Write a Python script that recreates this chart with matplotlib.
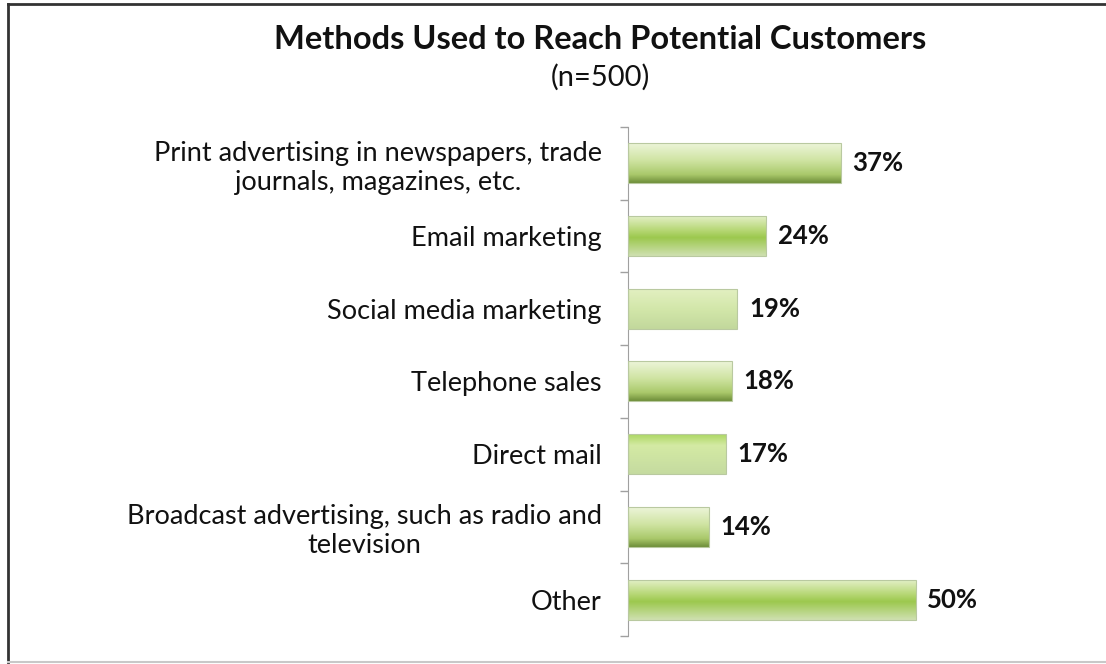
import matplotlib
matplotlib.use("Agg")
import matplotlib.pyplot as plt
import numpy as np
from matplotlib.colors import LinearSegmentedColormap
from matplotlib.lines import Line2D

plt.rcParams['font.family'] = ['Lato', 'DejaVu Sans']

# --- data ---
methods = [
    "Print advertising in newspapers, trade\njournals, magazines, etc.",
    "Email marketing",
    "Social media marketing",
    "Telephone sales",
    "Direct mail",
    "Broadcast advertising, such as radio and\ntelevision",
    "Other",
]
percents = [37, 24, 19, 18, 17, 14, 50]

TITLE = "Methods Used to Reach Potential Customers"
SUBTITLE = "(n=500)"

# vertical gradient stops (top -> bottom) for the glossy bars
GRADIENTS = {
    "shade": [(0.0, "#eef6dc"), (0.45, "#cfe4a2"), (0.8, "#a9c86a"), (1.0, "#6f8f3a")],
    "band": [(0.0, "#e6f1cb"), (0.4, "#b2d56e"), (0.55, "#9cc84e"), (1.0, "#cfe0b0")],
    "light": [(0.0, "#e3f0c2"), (0.5, "#d3e7aa"), (1.0, "#c2d89c")],
    "glow": [(0.0, "#a9d65c"), (0.3, "#d4eaa4"), (1.0, "#c5dba0")],
}
bar_styles = ["shade", "band", "light", "shade", "glow", "shade", "band"]

fig = plt.figure(figsize=(11.06, 6.64), dpi=100)
ax = fig.add_axes([0.568, 0.042, 0.312, 0.767])

y = np.arange(len(methods))
bars = ax.barh(y, percents, height=0.55, color='none',
               edgecolor='#b9c9a0', linewidth=0.8, zorder=3)

for bar, style in zip(bars, bar_styles):
    cmap = LinearSegmentedColormap.from_list(style, GRADIENTS[style])
    grad = np.linspace(0, 1, 100).reshape(-1, 1)
    x0, y0 = bar.get_x(), bar.get_y()
    w, h = bar.get_width(), bar.get_height()
    im = ax.imshow(grad, cmap=cmap, aspect='auto', origin='upper',
                   extent=[x0, x0 + w, y0 + h, y0], zorder=2)
    im.set_clip_path(bar)

for bar, val in zip(bars, percents):
    ax.text(bar.get_width() + 2.0, bar.get_y() + bar.get_height() / 2,
            f"{val}%", va='center', ha='left', fontsize=18.5,
            fontweight='bold', color='#111111')

ax.set_xlim(0, 60)
ax.set_ylim(len(methods) - 0.5, -0.5)

ax.set_yticks(y)
ax.set_yticklabels(methods, fontsize=19.5, color='#111111', linespacing=1.2)
for lbl in ax.get_yticklabels():
    lbl.set_multialignment('center')
ax.set_yticks(np.arange(-0.5, len(methods)), minor=True)
ax.tick_params(axis='y', which='major', length=0, pad=19)
ax.tick_params(axis='y', which='minor', length=6, color='#a0a0a0', width=1)
ax.set_xticks([])

for side in ['top', 'right', 'bottom']:
    ax.spines[side].set_visible(False)
ax.spines['left'].set_color('#a0a0a0')

fig.text(0.5425, 0.94, TITLE, ha='center', va='center',
         fontsize=23.5, fontweight='bold', color='#111111')
fig.text(0.5425, 0.884, SUBTITLE, ha='center', va='center',
         fontsize=21, color='#111111')

# outer frame
fig.add_artist(Line2D([0.0075, 1.0], [0.994, 0.994], color='#333333', linewidth=2))
fig.add_artist(Line2D([0.0075, 0.0075], [0.003, 0.994], color='#333333', linewidth=2))
fig.add_artist(Line2D([0.0075, 1.0], [0.003, 0.003], color='#c8c8c8', linewidth=1.5))

fig.savefig("out.png", dpi=100)
